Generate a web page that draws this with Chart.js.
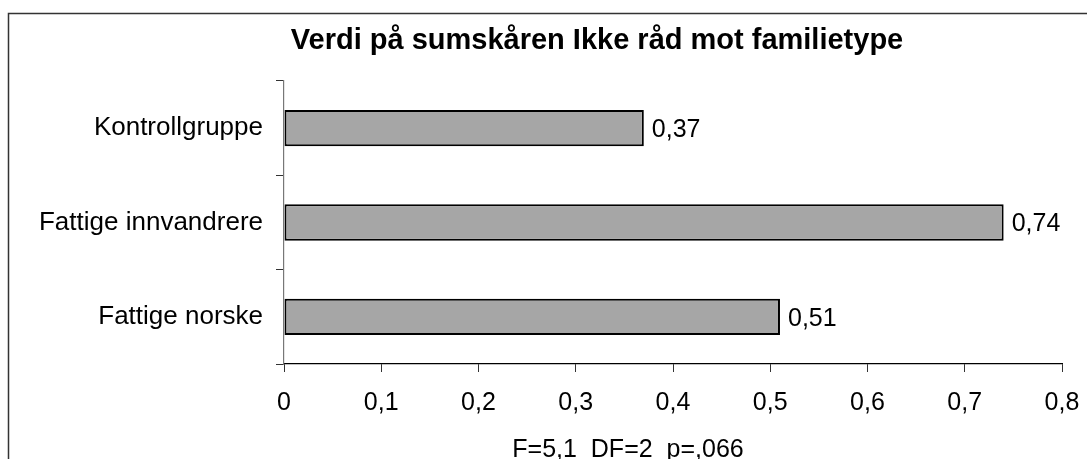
<!DOCTYPE html>
<html>
<head>
<meta charset="utf-8">
<script src="https://cdn.jsdelivr.net/npm/chart.js@4/dist/chart.umd.min.js"></script>
<style>
html,body{margin:0;padding:0;background:#fff;}
canvas{display:block;}
</style>
</head>
<body>
<canvas id="c" width="1087" height="459"></canvas>
<script>
const chartTitle = 'Verdi på sumskåren Ikke råd mot familietype';
const footerText = 'F=5,1  DF=2  p=,066';
const categories = ['Kontrollgruppe', 'Fattige innvandrere', 'Fattige norske'];
const values = [0.37, 0.74, 0.51];
const valueLabels = ['0,37', '0,74', '0,51'];
const xTickLabels = ['0', '0,1', '0,2', '0,3', '0,4', '0,5', '0,6', '0,7', '0,8'];

const FONT = 'Liberation Sans, Arial, Helvetica, sans-serif';

const extras = {
  id: 'extras',
  beforeDraw(chart) {
    const ctx = chart.ctx;
    ctx.save();
    ctx.fillStyle = '#fff';
    ctx.fillRect(0, 0, chart.width, chart.height);
    ctx.strokeStyle = '#333';
    ctx.lineWidth = 1.5;
    ctx.strokeRect(8.5, 13.5, 2000, 2000);
    ctx.restore();
  },
  afterDraw(chart) {
    const ctx = chart.ctx;
    ctx.save();
    ctx.fillStyle = '#000';
    ctx.textAlign = 'center';
    ctx.textBaseline = 'alphabetic';
    ctx.font = 'bold 29px ' + FONT;
    ctx.fillText(chartTitle, 597, 49);
    ctx.font = '25px ' + FONT;
    ctx.fillText(footerText, 628, 457);
    const meta = chart.getDatasetMeta(0);
    ctx.textAlign = 'left';
    ctx.textBaseline = 'middle';
    ctx.font = '25px ' + FONT;
    meta.data.forEach((bar, i) => {
      ctx.fillText(valueLabels[i], bar.x + 8, bar.y + 2);
    });
    ctx.restore();
  }
};

new Chart(document.getElementById('c'), {
  type: 'bar',
  data: {
    labels: categories,
    datasets: [{
      data: values,
      backgroundColor: '#a6a6a6',
      borderColor: '#000',
      borderWidth: 2,
      borderSkipped: false,
      barPercentage: 0.77,
      categoryPercentage: 0.5
    }]
  },
  options: {
    indexAxis: 'y',
    responsive: false,
    animation: false,
    layout: { padding: { left: 0, top: 81, right: 25, bottom: 0 } },
    plugins: { legend: { display: false }, title: { display: false }, tooltip: { enabled: false } },
    scales: {
      x: {
        min: 0, max: 0.8,
        afterFit(s) { s.height = 95; s.paddingRight = 0; s.paddingLeft = 0; },
        ticks: {
          stepSize: 0.1,
          autoSkip: false, maxRotation: 0,
          color: '#000',
          font: { family: FONT, size: 25 },
          padding: 16,
          callback: (v, i) => xTickLabels[i]
        },
        grid: { drawOnChartArea: false, drawTicks: true, tickLength: 8, color: '#333', lineWidth: 1 },
        border: { display: true, color: '#000', width: 1.2 }
      },
      y: {
        afterFit(s) { s.width = 284; s.paddingTop = 0; s.paddingBottom = 0; },
        ticks: {
          color: '#000',
          font: { family: FONT, size: 26 },
          padding: 13
        },
        grid: { drawOnChartArea: false, drawTicks: true, tickLength: 8, color: '#333', lineWidth: 1, offset: true },
        border: { display: true, color: '#777', width: 1.2 }
      }
    }
  },
  plugins: [extras]
});
</script>
</body>
</html>
